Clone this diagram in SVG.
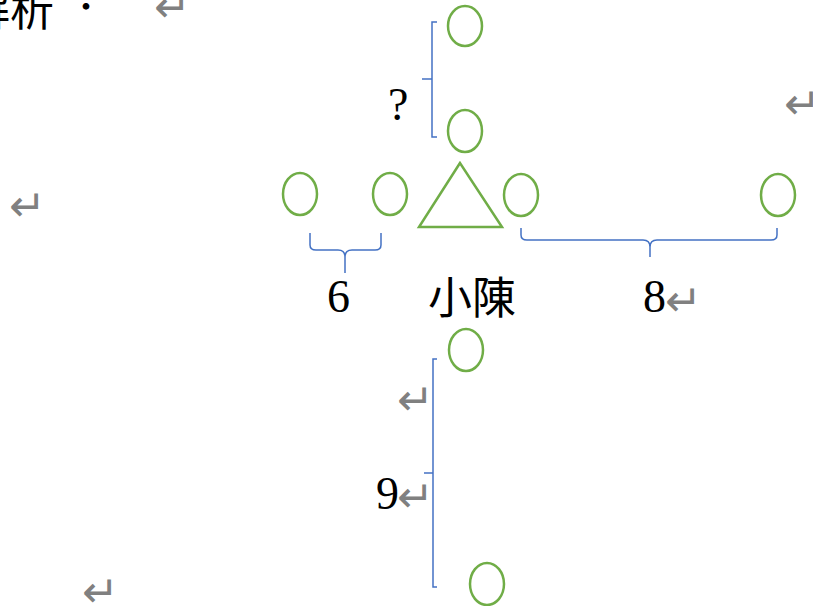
<svg xmlns="http://www.w3.org/2000/svg" width="813" height="606" viewBox="0 0 813 606">
<style>
.o{fill:none;stroke:#70AD47;stroke-width:2.5}
.b{fill:none;stroke:#4472C4;stroke-width:1.5}
.t{font-family:"Liberation Serif",serif;font-size:46px;fill:#000}
.c{font-family:"Noto Sans CJK TC",sans-serif;font-size:44px;fill:#000}
.r{font-family:"DejaVu Sans",sans-serif;font-size:44px;fill:#808080}
</style>
<rect width="813" height="606" fill="#fff"/>
<g id="header">
<text class="c" x="-34" y="26" font-size="42">解析<tspan dx="10" dy="-14">：</tspan></text>
</g>
<g id="marks">
<text class="r" x="154" y="22">↵</text>
<text class="r" x="9" y="221">↵</text>
<text class="r" x="784" y="119">↵</text>
<text class="r" x="82" y="607">↵</text>
<text class="r" x="397" y="415">↵</text>
</g>
<g id="n_top1"><ellipse class="o" cx="465" cy="26" rx="17" ry="20"/></g>
<g id="n_top2"><ellipse class="o" cx="465" cy="131" rx="17" ry="21"/></g>
<g id="n_l1"><ellipse class="o" cx="300" cy="194" rx="17" ry="21"/></g>
<g id="n_l2"><ellipse class="o" cx="390" cy="194" rx="17" ry="21"/></g>
<g id="n_chen"><polygon class="o" points="460,163 419,227 502,227"/>
<text class="c" x="428" y="314">小陳</text></g>
<g id="n_r1"><ellipse class="o" cx="521" cy="195" rx="17" ry="21"/></g>
<g id="n_r2"><ellipse class="o" cx="778" cy="195" rx="17" ry="21"/></g>
<g id="n_b1"><ellipse class="o" cx="466" cy="350" rx="17" ry="21"/></g>
<g id="n_b2"><ellipse class="o" cx="487" cy="584" rx="17" ry="21"/></g>
<g id="connectors">
<path class="b" d="M437,22 H432 V137 H437 M432,79 H422"/>
<path class="b" d="M310,233 V245 Q310,250 316,250 H338 Q345,250 345,257 V273 M345,257 Q345,250 352,250 H375 Q381,250 381,245 V233"/>
<path class="b" d="M521,228 V235 Q521,240 527,240 H643 Q650,240 650,247 V257 M650,247 Q650,240 657,240 H771 Q777,240 777,235 V228"/>
<path class="b" d="M437,359 H433 V587 H437 M433,473 H424"/>
</g>
<g id="labels">
<text class="t" x="388" y="120" font-size="50">?</text>
<text class="t" x="327" y="312">6</text>
<text class="t" x="643" y="312">8</text>
<text class="r" x="665" y="316">↵</text>
<text class="t" x="376" y="509">9</text>
<text class="r" x="397" y="512">↵</text>
</g>
</svg>
